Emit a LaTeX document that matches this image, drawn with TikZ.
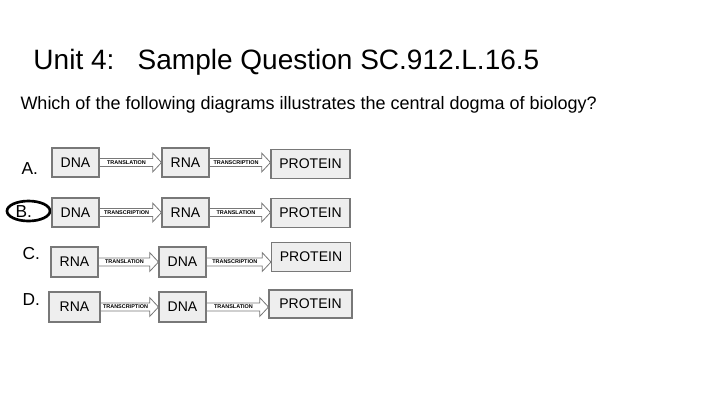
\documentclass[tikz,border=0pt]{standalone}
\usepackage{fontspec}
\setmainfont{Liberation Sans}
\usetikzlibrary{calc}

\definecolor{boxfill}{RGB}{238,238,238}
\definecolor{boxline}{RGB}{120,120,120}

\tikzset{every picture/.style={line width=0.75pt},
  molbox/.style={draw=boxline, fill=boxfill, line width=0.8pt, inner sep=0pt, font=\fontsize{10.5}{12}\selectfont},
  shortbox/.style={molbox, minimum width=35.25pt, minimum height=21.75pt},
  longbox/.style={molbox, minimum width=59.25pt, minimum height=21.75pt},
  flowarrow/.style={draw=boxline, fill=white, line width=0.6pt},
  flowlabel/.style={font=\fontsize{4.1}{5}\selectfont\bfseries, inner sep=0pt},
  choice/.style={anchor=base west, inner sep=0pt, font=\fontsize{13}{15}\selectfont}}

% block arrow from #1 to #2 with label #3
\newcommand{\flowto}[3]{%
  \draw[flowarrow] let \p1=(#1.east), \p2=(#2.west) in
    (\x1,{\y1+3pt}) -- ({\x2-6.5pt},{\y1+3pt}) -- ({\x2-6.5pt},{\y1+7pt}) -- (\x2,\y1)
    -- ({\x2-6.5pt},{\y1-7pt}) -- ({\x2-6.5pt},{\y1-3pt}) -- (\x1,{\y1-3pt}) -- cycle
    ({(\x1+\x2)/2-3pt},\y1) node[flowlabel] {#3};}

\begin{document}
\begin{tikzpicture}[x=0.75pt,y=0.75pt,yscale=-1,xscale=1]
\useasboundingbox (0,0) rectangle (720,405);

% Title
\node[anchor=base west, inner sep=0pt, font=\fontsize{21}{25}\selectfont] (title) at (33,69) {Unit 4:\ \ \ Sample Question SC.912.L.16.5};
% Question
\node[anchor=base west, inner sep=0pt, font=\fontsize{13.5}{16}\selectfont] (question) at (20,109) {Which of the following diagrams illustrates the central dogma of biology?};

% Choice letters
\node[choice] (optA) at (21,174) {A.};
\node[choice] (optB) at (15,217) {B.};
\node[choice] (optC) at (22,259) {C.};
\node[choice] (optD) at (22,305) {D.};
% circled answer
\draw[line width=2pt] (28.5,211) ellipse (21.5 and 10);

% Row A
\node[shortbox] (dnaA) at (75.5,162.5) {DNA};
\node[shortbox] (rnaA) at (185.5,162.5) {RNA};
\node[longbox] (protA) at (310.5,164) {PROTEIN};
% Row B
\node[shortbox] (dnaB) at (75.5,212.5) {DNA};
\node[shortbox] (rnaB) at (185.5,212.5) {RNA};
\node[longbox] (protB) at (310.5,213) {PROTEIN};
% Row C
\node[shortbox, minimum height=22.5pt] (rnaC) at (74.5,262) {RNA};
\node[shortbox, minimum height=22.5pt] (dnaC) at (182.5,262) {DNA};
\node[longbox] (protC) at (311,257) {PROTEIN};
% Row D
\node[shortbox, minimum width=38.25pt, minimum height=22.5pt] (rnaD) at (74.5,307) {RNA};
\node[shortbox, minimum height=22.5pt] (dnaD) at (182.5,307) {DNA};
\node[longbox, minimum width=62.25pt, minimum height=21pt] (protD) at (310.5,304) {PROTEIN};

% Arrows
\flowto{dnaA}{rnaA}{TRANSLATION}
\flowto{rnaA}{protA}{TRANSCRIPTION}
\flowto{dnaB}{rnaB}{TRANSCRIPTION}
\flowto{rnaB}{protB}{TRANSLATION}
\flowto{rnaC}{dnaC}{TRANSLATION}
\flowto{dnaC}{protC}{TRANSCRIPTION}
\flowto{rnaD}{dnaD}{TRANSCRIPTION}
\flowto{dnaD}{protD}{TRANSLATION}

\end{tikzpicture}
\end{document}
